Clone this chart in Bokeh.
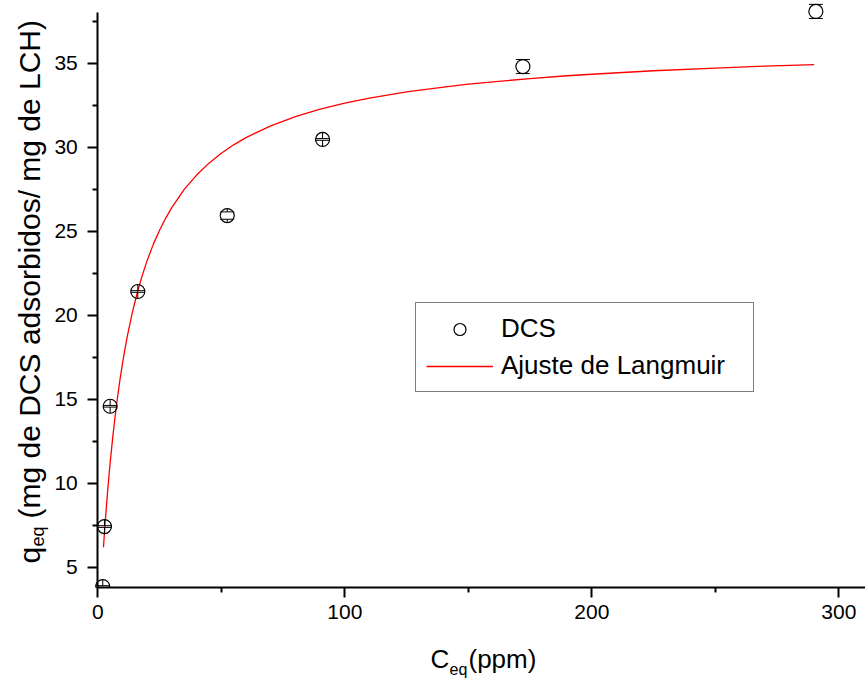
import numpy as np
from bokeh.plotting import figure
from bokeh.models import (Range1d, FixedTicker, Whisker, ColumnDataSource, Legend,
                          LegendItem, Label, TeeHead)
from bokeh.embed import file_html
from bokeh.resources import INLINE

# ---- data ----
c_eq = [2.0, 2.7, 5.0, 16.2, 52.4, 91.0, 172.1, 290.7]
q_eq = [3.85, 7.42, 14.58, 21.41, 25.93, 30.46, 34.80, 38.08]
q_err = [0.05, 0.05, 0.05, 0.05, 0.22, 0.05, 0.42, 0.42]

fit_c = [2.3, 2.6, 3, 3.5, 4, 4.5, 5, 6, 7, 8, 9, 10, 11, 12, 14, 16, 18, 20,
         22.5, 25, 27.5, 30, 35, 40, 45, 50, 55, 60, 70, 80, 90, 100, 110, 125,
         140, 150, 160, 175, 190, 200, 225, 250, 270, 290]
fit_q = [6.19, 6.84, 7.67, 8.65, 9.56, 10.41, 11.21, 12.67, 13.97, 15.13, 16.18,
         17.13, 17.99, 18.78, 20.17, 21.35, 22.37, 23.26, 24.23, 25.06, 25.78,
         26.42, 27.49, 28.34, 29.05, 29.64, 30.14, 30.57, 31.27, 31.82, 32.26,
         32.62, 32.92, 33.29, 33.58, 33.75, 33.89, 34.08, 34.25, 34.34, 34.55,
         34.71, 34.82, 34.91]

x_ticks = [0, 100, 200, 300]
x_minor = [50, 150, 250]
y_ticks = [5, 10, 15, 20, 25, 30, 35]
y_minor = [7.5, 12.5, 17.5, 22.5, 27.5, 32.5, 37.5]

x_axis_span = (0, 310.8)
y_axis_span = (3.79, 38.0)

FONT = "Liberation Sans"
W, H = 865, 686
MARKER = 14  # px

# the frame covers the whole canvas; axes sit at fixed data locations inside it
xr = Range1d(-39.39, 310.8)
yr = Range1d(-2.10, 38.73)
p = figure(width=W, height=H, output_backend="svg", toolbar_location=None,
           x_range=xr, y_range=yr,
           min_border_left=0, min_border_right=0, min_border_top=0,
           min_border_bottom=0, title_location=None)
p.outline_line_color = None
p.grid.visible = False
p.background_fill_color = "white"
p.border_fill_color = "white"

p.xaxis.ticker = FixedTicker(ticks=x_ticks, minor_ticks=x_minor)
p.yaxis.ticker = FixedTicker(ticks=y_ticks, minor_ticks=y_minor)
p.xaxis.bounds = x_axis_span
p.yaxis.bounds = y_axis_span
p.xaxis.fixed_location = y_axis_span[0]
p.yaxis.fixed_location = x_axis_span[0]
for ax in (p.xaxis[0], p.yaxis[0]):
    ax.axis_line_width = 2
    ax.axis_line_color = "black"
    ax.major_tick_out = 10
    ax.major_tick_in = 0
    ax.minor_tick_out = 5
    ax.minor_tick_in = 0
    ax.major_tick_line_width = 2
    ax.minor_tick_line_width = 2
    ax.major_tick_line_color = "black"
    ax.minor_tick_line_color = "black"
    ax.major_label_text_font = FONT
    ax.major_label_text_font_size = "21px"
    ax.major_label_text_color = "black"
p.yaxis.major_label_standoff = 10
p.xaxis.major_label_standoff = 7

ln = p.line(fit_c, fit_q, line_color="#ff0000", line_width=1.3)
sc = p.scatter(c_eq, q_eq, marker="circle", size=MARKER, fill_color=None,
               line_color="black", line_width=1.2)

# error bars drawn Origin-style: from the marker edge to the cap
r_data = (MARKER / 2) * (yr.end - yr.start) / H
upper = [q + e for q, e in zip(q_eq, q_err)]
lower = [q - e for q, e in zip(q_eq, q_err)]
p.segment(x0=c_eq, y0=[q + r_data for q in q_eq], x1=c_eq, y1=upper,
          line_color="black", line_width=1)
p.segment(x0=c_eq, y0=[q - r_data for q in q_eq], x1=c_eq, y1=lower,
          line_color="black", line_width=1)
src = ColumnDataSource(dict(x=c_eq, upper=upper, lower=lower))
wk = Whisker(base="x", upper="upper", lower="lower", source=src,
             dimension="height", line_alpha=0, level="glyph",
             upper_head=TeeHead(size=MARKER, line_color="black", line_width=1),
             lower_head=TeeHead(size=MARKER, line_color="black", line_width=1))
p.add_layout(wk)

# the plot area ends at the x axis: hide what falls below it
p.quad(left=xr.start, right=xr.end, bottom=yr.start, top=y_axis_span[0],
       fill_color="white", line_color=None)

legend = Legend(items=[LegendItem(label="DCS", renderers=[sc]),
                       LegendItem(label="Ajuste de Langmuir", renderers=[ln])],
                location=(415, H - 392), border_line_color="black",
                border_line_width=1, background_fill_alpha=1,
                label_text_font=FONT, label_text_font_size="26px",
                label_text_color="black",
                glyph_width=67, glyph_height=30, label_height=30,
                label_width=242, padding=10, spacing=6, label_standoff=8,
                margin=0)
p.add_layout(legend)

def lab(cx, cy, t, size, angle=0.0):
    # canvas pixel position (from top-left) -> frame screen coords
    p.add_layout(Label(x=cx, y=H - cy, x_units="screen", y_units="screen",
                       text=t, text_font=FONT, text_font_size=size,
                       text_color="black", text_align="left",
                       text_baseline="alphabetic", angle=angle))

# x title
lab(430, 658, "C", "26px")
lab(449, 669, "eq", "16px")
lab(468, 658, "(ppm)", "26px")

# y title, rotated
A = np.pi / 2
lab(29, 563, "q", "30px", A)
lab(37, 546, "eq", "18px", A)
lab(29, 518, "(mg de DCS adsorbidos/ mg de LCH)", "30px", A)

open("out.html", "w").write(file_html(p, INLINE))
